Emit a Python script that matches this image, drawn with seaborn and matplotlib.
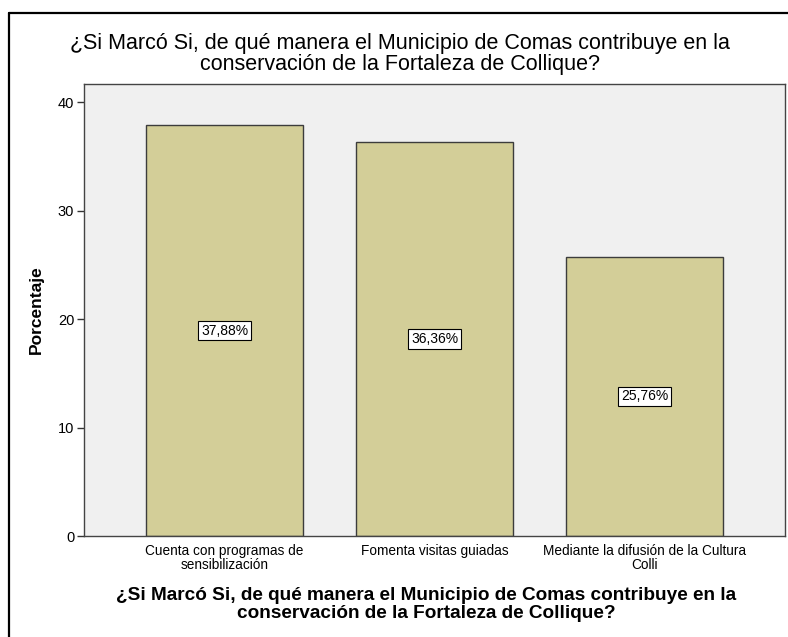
import matplotlib
matplotlib.use('Agg')
import matplotlib.pyplot as plt
from matplotlib.lines import Line2D
import pandas as pd
import seaborn as sns

# ── datos ────────────────────────────────────────────────────────────────────
categorias = ['Cuenta con programas de\nsensibilización',
              'Fomenta visitas guiadas',
              'Mediante la difusión de la Cultura\nColli']
porcentajes = [37.88, 36.36, 25.76]
etiquetas = ['37,88%', '36,36%', '25,76%']
y_ticks = [0, 10, 20, 30, 40]

TITULO = ('¿Si Marcó Si, de qué manera el Municipio de Comas contribuye en la\n'
          'conservación de la Fortaleza de Collique?')

sns.set_style('white')
plt.rcParams['font.family'] = ['Liberation Sans', 'DejaVu Sans']
plt.rcParams['text.color'] = 'black'
plt.rcParams['xtick.color'] = 'black'
plt.rcParams['ytick.color'] = 'black'
plt.rcParams['axes.labelcolor'] = 'black'

df = pd.DataFrame({'cat': categorias, 'pct': porcentajes})

fig = plt.figure(figsize=(7.88, 6.37), dpi=100)
ax = fig.add_axes([84 / 788, 1 - 536 / 637, 701 / 788, 452 / 637])
ax.set_facecolor('#F0F0F0')

sns.barplot(data=df, x='cat', y='pct', color='#D3CE98', saturation=1,
            width=0.75, edgecolor='#3C3C3C', linewidth=1.0, ax=ax)

for i, (v, lab) in enumerate(zip(porcentajes, etiquetas)):
    ax.text(i, v / 2, lab, ha='center', va='center', fontsize=10,
            bbox=dict(boxstyle='square,pad=0.2', facecolor='white',
                      edgecolor='black', linewidth=0.8))

ax.set_xlim(-0.67, 2.67)
ax.set_ylim(0, 41.7)
ax.set_yticks(y_ticks)
ax.tick_params(axis='y', which='both', left=True, length=5, width=1,
               labelsize=10.5, color='#333333', pad=2)
ax.tick_params(axis='x', bottom=False, labelsize=9.8, pad=2)
for t in ax.get_xticklabels():
    t.set_linespacing(1.05)
for s in ax.spines.values():
    s.set_color('#444444')
    s.set_linewidth(1)

ax.set_xlabel(TITULO, fontsize=13.7, fontweight='bold', labelpad=11,
              linespacing=1.05)
ax.xaxis.label.set_x(0.488)
ax.set_ylabel('Porcentaje', fontsize=12.5, fontweight='bold', labelpad=10)

fig.text(0.507, 1 - 54 / 637, TITULO, ha='center', va='center',
         fontsize=15.5, linespacing=0.95)

# marco negro (recortado)
fig.add_artist(Line2D([9 / 788, 1], [1 - 13 / 637, 1 - 13 / 637],
                      transform=fig.transFigure, color='black', lw=1.6))
fig.add_artist(Line2D([9 / 788, 9 / 788], [0, 1 - 13 / 637],
                      transform=fig.transFigure, color='black', lw=1.6))

fig.savefig('out.png', dpi=100)
